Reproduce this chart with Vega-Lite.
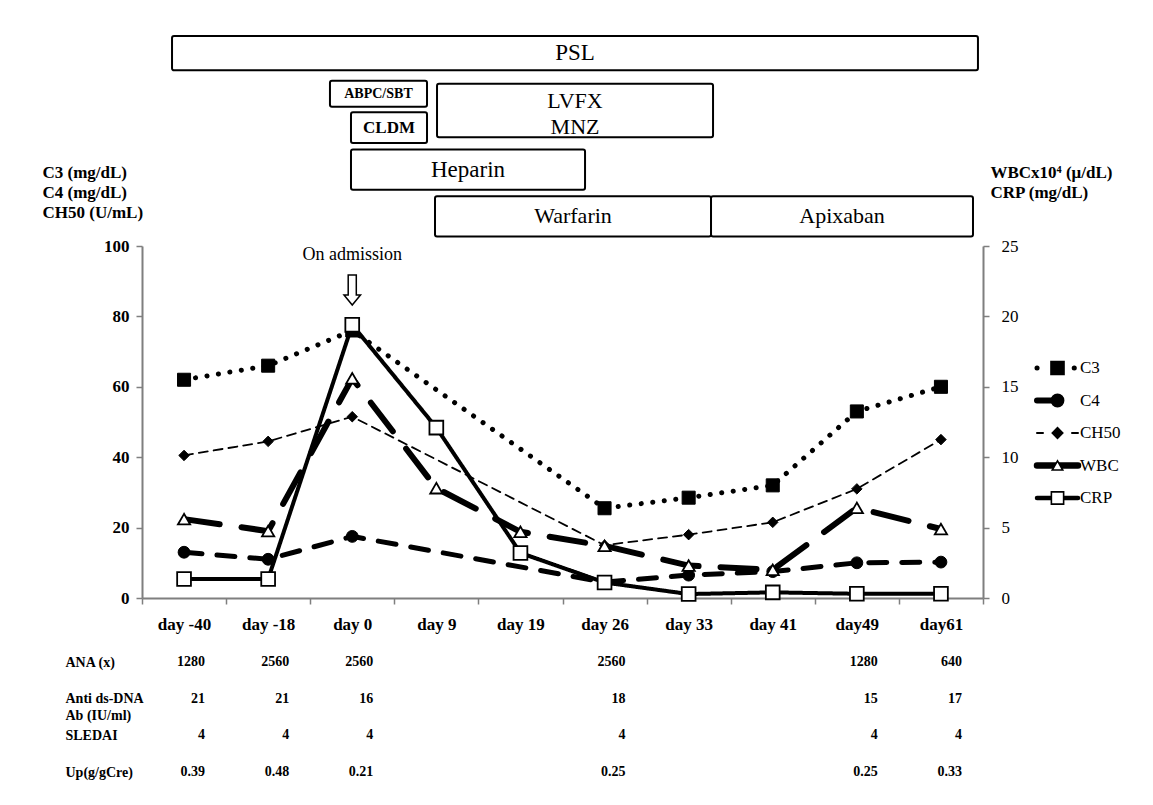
{
  "$schema": "https://vega.github.io/schema/vega-lite/v6.json",
  "background": "white",
  "padding": {"left": 42, "top": 35, "right": 0, "bottom": 0},
  "autosize": {"type": "pad"},
  "bounds": "flush",
  "spacing": 0,
  "config": {
    "font": "Liberation Serif",
    "view": {"stroke": null},
    "axis": {"labelColor": "black", "titleColor": "black", "domainColor": "#7f7f7f", "tickColor": "#7f7f7f", "domainWidth": 2, "tickWidth": 1.5, "grid": false},
    "text": {"color": "black"}
  },
  "datasets": {
    "labs": [
      {"day": "day -40", "t": -40, "series": "C3", "value": 62},
      {"day": "day -18", "t": -18, "series": "C3", "value": 66},
      {"day": "day 0", "t": 0, "series": "C3", "value": 76},
      {"day": "day 26", "t": 26, "series": "C3", "value": 25.5},
      {"day": "day 33", "t": 33, "series": "C3", "value": 28.5},
      {"day": "day 41", "t": 41, "series": "C3", "value": 32},
      {"day": "day49", "t": 49, "series": "C3", "value": 53},
      {"day": "day61", "t": 61, "series": "C3", "value": 60},
      {"day": "day -40", "t": -40, "series": "C4", "value": 13},
      {"day": "day -18", "t": -18, "series": "C4", "value": 11},
      {"day": "day 0", "t": 0, "series": "C4", "value": 17.5},
      {"day": "day 26", "t": 26, "series": "C4", "value": 4.5},
      {"day": "day 33", "t": 33, "series": "C4", "value": 6.5},
      {"day": "day 41", "t": 41, "series": "C4", "value": 7.5},
      {"day": "day49", "t": 49, "series": "C4", "value": 10},
      {"day": "day61", "t": 61, "series": "C4", "value": 10.2},
      {"day": "day -40", "t": -40, "series": "CH50", "value": 40.5},
      {"day": "day -18", "t": -18, "series": "CH50", "value": 44.5},
      {"day": "day 0", "t": 0, "series": "CH50", "value": 51.5},
      {"day": "day 26", "t": 26, "series": "CH50", "value": 15},
      {"day": "day 33", "t": 33, "series": "CH50", "value": 18},
      {"day": "day 41", "t": 41, "series": "CH50", "value": 21.5},
      {"day": "day49", "t": 49, "series": "CH50", "value": 31},
      {"day": "day61", "t": 61, "series": "CH50", "value": 45},
      {"day": "day -40", "t": -40, "series": "WBC", "value": 5.6},
      {"day": "day -18", "t": -18, "series": "WBC", "value": 4.75},
      {"day": "day 0", "t": 0, "series": "WBC", "value": 15.6},
      {"day": "day 9", "t": 9, "series": "WBC", "value": 7.8},
      {"day": "day 19", "t": 19, "series": "WBC", "value": 4.7},
      {"day": "day 26", "t": 26, "series": "WBC", "value": 3.7},
      {"day": "day 33", "t": 33, "series": "WBC", "value": 2.3},
      {"day": "day 41", "t": 41, "series": "WBC", "value": 2.0},
      {"day": "day49", "t": 49, "series": "WBC", "value": 6.4},
      {"day": "day61", "t": 61, "series": "WBC", "value": 4.9},
      {"day": "day -40", "t": -40, "series": "CRP", "value": 1.35},
      {"day": "day -18", "t": -18, "series": "CRP", "value": 1.35},
      {"day": "day 0", "t": 0, "series": "CRP", "value": 19.4},
      {"day": "day 9", "t": 9, "series": "CRP", "value": 12.1},
      {"day": "day 19", "t": 19, "series": "CRP", "value": 3.2},
      {"day": "day 26", "t": 26, "series": "CRP", "value": 1.1},
      {"day": "day 33", "t": 33, "series": "CRP", "value": 0.28},
      {"day": "day 41", "t": 41, "series": "CRP", "value": 0.4},
      {"day": "day49", "t": 49, "series": "CRP", "value": 0.3},
      {"day": "day61", "t": 61, "series": "CRP", "value": 0.3}
    ],
    "table": [
      {"item": "ANA (x)", "day": "day -40", "val": "1280"},
      {"item": "ANA (x)", "day": "day -18", "val": "2560"},
      {"item": "ANA (x)", "day": "day 0", "val": "2560"},
      {"item": "ANA (x)", "day": "day 26", "val": "2560"},
      {"item": "ANA (x)", "day": "day49", "val": "1280"},
      {"item": "ANA (x)", "day": "day61", "val": "640"},
      {"item": "Anti ds-DNA Ab (IU/ml)", "day": "day -40", "val": "21"},
      {"item": "Anti ds-DNA Ab (IU/ml)", "day": "day -18", "val": "21"},
      {"item": "Anti ds-DNA Ab (IU/ml)", "day": "day 0", "val": "16"},
      {"item": "Anti ds-DNA Ab (IU/ml)", "day": "day 26", "val": "18"},
      {"item": "Anti ds-DNA Ab (IU/ml)", "day": "day49", "val": "15"},
      {"item": "Anti ds-DNA Ab (IU/ml)", "day": "day61", "val": "17"},
      {"item": "SLEDAI", "day": "day -40", "val": "4"},
      {"item": "SLEDAI", "day": "day -18", "val": "4"},
      {"item": "SLEDAI", "day": "day 0", "val": "4"},
      {"item": "SLEDAI", "day": "day 26", "val": "4"},
      {"item": "SLEDAI", "day": "day49", "val": "4"},
      {"item": "SLEDAI", "day": "day61", "val": "4"},
      {"item": "Up(g/gCre)", "day": "day -40", "val": "0.39"},
      {"item": "Up(g/gCre)", "day": "day -18", "val": "0.48"},
      {"item": "Up(g/gCre)", "day": "day 0", "val": "0.21"},
      {"item": "Up(g/gCre)", "day": "day 26", "val": "0.25"},
      {"item": "Up(g/gCre)", "day": "day49", "val": "0.25"},
      {"item": "Up(g/gCre)", "day": "day61", "val": "0.33"}
    ],
    "therapy": [
      {"drug": "PSL", "start": 0.357, "end": 9.94, "top": 0, "bottom": 3.6},
      {"drug": "ABPC/SBT", "start": 2.235, "end": 3.389, "top": 4.7, "bottom": 7.4},
      {"drug": "CLDM", "start": 2.485, "end": 3.389, "top": 8.0, "bottom": 11.2},
      {"drug": "LVFX\nMNZ", "start": 3.508, "end": 6.79, "top": 5.0, "bottom": 10.6},
      {"drug": "Heparin", "start": 2.485, "end": 5.268, "top": 11.9, "bottom": 16.1},
      {"drug": "Warfarin", "start": 3.484, "end": 6.766, "top": 16.8, "bottom": 21},
      {"drug": "Apixaban", "start": 6.766, "end": 9.881, "top": 16.8, "bottom": 21}
    ],
    "keys": [
      {"series": "C3"}, {"series": "C4"}, {"series": "CH50"}, {"series": "WBC"}, {"series": "CRP"}
    ],
    "notes": [
      {"day": "day 0", "value": 97.5, "note": "On admission"}
    ],
    "arrows": [
      {"day": "day 0", "value": 87.5}
    ]
  },
  "resolve": {"scale": {"x": "independent", "y": "independent"}},
  "vconcat": [
    {
      "width": 841,
      "height": 210,
      "data": {"name": "therapy"},
      "transform": [
        {"calculate": "(datum.start + datum.end) / 2", "as": "xm"},
        {"calculate": "(datum.top + datum.bottom) / 2", "as": "ym"}
      ],
      "layer": [
        {
          "mark": {"type": "rect", "fill": "white", "stroke": "black", "strokeWidth": 2, "cornerRadius": 2},
          "encoding": {
            "x": {"field": "start", "type": "quantitative", "scale": {"domain": [0, 10]}, "axis": null},
            "x2": {"field": "end"},
            "y": {"field": "top", "type": "quantitative", "scale": {"domain": [0, 21], "reverse": true}, "axis": null},
            "y2": {"field": "bottom"}
          }
        },
        {
          "transform": [{"filter": "datum.drug == 'PSL' || datum.drug == 'Heparin'"}],
          "mark": {"type": "text", "fontSize": 23, "baseline": "middle"},
          "encoding": {
            "x": {"field": "xm", "type": "quantitative"},
            "y": {"field": "ym", "type": "quantitative"},
            "text": {"field": "drug"}
          }
        },
        {
          "transform": [{"filter": "test(/LVFX/, datum.drug)"}],
          "mark": {"type": "text", "fontSize": 22, "lineBreak": "\n", "lineHeight": 26, "baseline": "middle", "dy": -9},
          "encoding": {
            "x": {"field": "xm", "type": "quantitative"},
            "y": {"field": "ym", "type": "quantitative"},
            "text": {"field": "drug"}
          }
        },
        {
          "transform": [{"filter": "datum.drug == 'Warfarin' || datum.drug == 'Apixaban'"}],
          "mark": {"type": "text", "fontSize": 22, "baseline": "middle"},
          "encoding": {
            "x": {"field": "xm", "type": "quantitative"},
            "y": {"field": "ym", "type": "quantitative"},
            "text": {"field": "drug"}
          }
        },
        {
          "transform": [{"filter": "datum.drug == 'ABPC/SBT'"}],
          "mark": {"type": "text", "fontSize": 14, "fontWeight": "bold", "baseline": "middle"},
          "encoding": {
            "x": {"field": "xm", "type": "quantitative"},
            "y": {"field": "ym", "type": "quantitative"},
            "text": {"field": "drug"}
          }
        },
        {
          "transform": [{"filter": "datum.drug == 'CLDM'"}],
          "mark": {"type": "text", "fontSize": 17, "fontWeight": "bold", "baseline": "middle"},
          "encoding": {
            "x": {"field": "xm", "type": "quantitative"},
            "y": {"field": "ym", "type": "quantitative"},
            "text": {"field": "drug"}
          }
        }
      ]
    },
    {
      "width": 841,
      "height": 352,
      "layer": [
        {
          "data": {"name": "labs"},
          "encoding": {
            "x": {
              "field": "day", "type": "ordinal", "sort": null, "bandPosition": 0.5,
              "scale": {"type": "band", "domain": ["day -40", "day -18", "day 0", "day 9", "day 19", "day 26", "day 33", "day 41", "day49", "day61"], "paddingInner": 0, "paddingOuter": 0},
              "axis": {"title": null, "tickBand": "extent", "labelAngle": 0, "labelFontSize": 17, "labelFontWeight": "bold", "labelPadding": 12, "tickSize": 6}
            }
          },
          "layer": [
            {
              "encoding": {
                "y": {
                  "field": "value", "type": "quantitative", "scale": {"domain": [0, 100]},
                  "axis": {
                    "orient": "left", "values": [0, 20, 40, 60, 80, 100],
                    "title": ["C3 (mg/dL)", "C4 (mg/dL)", "CH50 (U/mL)"],
                    "titleAngle": 0, "titleAlign": "left", "titleBaseline": "top", "titleX": -100, "titleY": -82,
                    "titleFontSize": 17, "titleFontWeight": "bold", "titleLineHeight": 20,
                    "labelFontSize": 17, "labelFontWeight": "bold", "labelPadding": 7, "tickSize": 6
                  }
                }
              },
              "layer": [
                {
                  "transform": [{"filter": "datum.series == 'C3' || datum.series == 'C4' || datum.series == 'CH50'"}],
                  "mark": {"type": "line", "color": "black", "strokeCap": "round"},
                  "encoding": {
                    "detail": {"field": "series"},
                    "order": {"field": "t", "type": "quantitative"},
                    "strokeDash": {"field": "series", "type": "nominal", "legend": null,
                      "scale": {"domain": ["C3", "C4", "CH50", "WBC", "CRP"], "range": [[0.1, 11.5], [18, 15], [9, 6], [36, 22], [1, 0]]}},
                    "strokeWidth": {"condition": [{"test": "datum.series == 'CH50'", "value": 1.8}], "value": 5}
                  }
                },
                {
                  "transform": [{"filter": "datum.series == 'C3' || datum.series == 'C4' || datum.series == 'CH50'"}],
                  "mark": {"type": "point", "filled": true, "stroke": "black", "strokeWidth": 1, "opacity": 1},
                  "encoding": {
                    "shape": {"field": "series", "type": "nominal", "legend": null,
                      "scale": {"domain": ["C3", "C4", "CH50", "WBC", "CRP"], "range": ["square", "circle", "diamond", "triangle-up", "square"]}},
                    "fill": {"field": "series", "type": "nominal", "legend": null,
                      "scale": {"domain": ["C3", "C4", "CH50", "WBC", "CRP"], "range": ["black", "black", "black", "white", "white"]}},
                    "size": {"condition": [{"test": "datum.series == 'C3'", "value": 170}, {"test": "datum.series == 'C4'", "value": 140}], "value": 110}
                  }
                },
                {
                  "data": {"name": "notes"},
                  "mark": {"type": "text", "fontSize": 18, "baseline": "middle"},
                  "encoding": {
                    "text": {"field": "note"}
                  }
                },
                {
                  "data": {"name": "arrows"},
                  "mark": {"type": "point", "shape": "M-0.27,-1L0.27,-1L0.27,0.33L0.55,0.33L0,1L-0.55,0.33L-0.27,0.33Z", "size": 900, "filled": true, "fill": "white", "stroke": "black", "strokeWidth": 1.5, "opacity": 1}
                }
              ]
            },
            {
              "encoding": {
                "y": {
                  "field": "value", "type": "quantitative", "scale": {"domain": [0, 25]},
                  "axis": {
                    "orient": "right", "values": [0, 5, 10, 15, 20, 25],
                    "title": ["WBCx10⁴ (μ/dL)", "CRP (mg/dL)"],
                    "titleAngle": 0, "titleAlign": "left", "titleBaseline": "top", "titleX": 7, "titleY": -82,
                    "titleFontSize": 17, "titleFontWeight": "bold", "titleLineHeight": 20,
                    "labelFontSize": 17, "labelFontWeight": "normal", "labelPadding": 12, "tickSize": 6
                  }
                }
              },
              "layer": [
                {
                  "transform": [{"filter": "datum.series == 'WBC' || datum.series == 'CRP'"}],
                  "mark": {"type": "line", "color": "black", "strokeCap": "round"},
                  "encoding": {
                    "detail": {"field": "series"},
                    "order": {"field": "t", "type": "quantitative"},
                    "strokeDash": {"field": "series", "type": "nominal", "legend": null,
                      "scale": {"domain": ["C3", "C4", "CH50", "WBC", "CRP"], "range": [[0.1, 11.5], [18, 15], [9, 6], [36, 22], [1, 0]]}},
                    "strokeWidth": {"condition": [{"test": "datum.series == 'WBC'", "value": 6}], "value": 4}
                  }
                },
                {
                  "transform": [{"filter": "datum.series == 'WBC' || datum.series == 'CRP'"}],
                  "mark": {"type": "point", "filled": true, "stroke": "black", "strokeWidth": 1.8, "opacity": 1},
                  "encoding": {
                    "shape": {"field": "series", "type": "nominal", "legend": null,
                      "scale": {"domain": ["C3", "C4", "CH50", "WBC", "CRP"], "range": ["square", "circle", "diamond", "triangle-up", "square"]}},
                    "fill": {"field": "series", "type": "nominal", "legend": null,
                      "scale": {"domain": ["C3", "C4", "CH50", "WBC", "CRP"], "range": ["black", "black", "black", "white", "white"]}},
                    "size": {"condition": [{"test": "datum.series == 'WBC'", "value": 150}], "value": 190}
                  }
                }
              ]
            }
          ],
          "resolve": {"scale": {"y": "independent"}}
        },
        {
          "data": {"name": "keys"},
          "encoding": {
            "y": {"field": "series", "type": "nominal", "axis": null,
              "scale": {"type": "point", "domain": ["C3", "C4", "CH50", "WBC", "CRP"], "range": [122, 252], "padding": 0}}
          },
          "layer": [
            {
              "transform": [{"filter": "datum.series != 'C4'"}],
              "mark": {"type": "rule", "color": "black", "strokeCap": "round"},
              "encoding": {
                "x": {"datum": 0, "type": "quantitative", "scale": {"domain": [0, 1], "range": [895, 936]}, "axis": null},
                "x2": {"datum": 1},
                "strokeDash": {"field": "series", "type": "nominal", "legend": null,
                  "scale": {"domain": ["C3", "C4", "CH50", "WBC", "CRP"], "range": [[0.1, 18.5], [1, 0], [6, 29], [1, 0], [1, 0]]}},
                "strokeWidth": {"condition": [{"test": "datum.series == 'CH50'", "value": 2}, {"test": "datum.series == 'WBC'", "value": 6.5}, {"test": "datum.series == 'CRP'", "value": 4.5}], "value": 5}
              }
            },
            {
              "transform": [{"filter": "datum.series == 'C4'"}],
              "mark": {"type": "rule", "color": "black", "strokeCap": "round", "strokeWidth": 6},
              "encoding": {
                "x": {"datum": 0, "type": "quantitative"},
                "x2": {"datum": 0.5}
              }
            },
            {
              "mark": {"type": "point", "filled": true, "stroke": "black", "strokeWidth": 1.6, "opacity": 1},
              "encoding": {
                "x": {"datum": 0.5, "type": "quantitative"},
                "shape": {"field": "series", "type": "nominal", "legend": null,
                  "scale": {"domain": ["C3", "C4", "CH50", "WBC", "CRP"], "range": ["square", "circle", "diamond", "triangle-up", "square"]}},
                "fill": {"field": "series", "type": "nominal", "legend": null,
                  "scale": {"domain": ["C3", "C4", "CH50", "WBC", "CRP"], "range": ["black", "black", "black", "white", "white"]}},
                "size": {"condition": [{"test": "datum.series == 'C3'", "value": 170}, {"test": "datum.series == 'C4'", "value": 150}, {"test": "datum.series == 'CRP'", "value": 150}, {"test": "datum.series == 'WBC'", "value": 110}], "value": 110}
              }
            },
            {
              "mark": {"type": "text", "align": "left", "baseline": "middle", "dx": 2, "fontSize": 17},
              "encoding": {
                "x": {"datum": 1, "type": "quantitative"},
                "text": {"field": "series"}
              }
            }
          ]
        }
      ],
      "resolve": {"scale": {"x": "independent", "y": "independent", "strokeDash": "independent", "shape": "independent", "fill": "independent"}}
    },
    {
      "width": 841,
      "height": 190,
      "data": {"name": "table"},
      "mark": {"type": "text", "align": "right", "dx": 21, "fontSize": 14, "fontWeight": "bold", "baseline": "middle"},
      "encoding": {
        "x": {
          "field": "day", "type": "ordinal", "sort": null, "bandPosition": 0.5, "axis": null,
          "scale": {"type": "band", "domain": ["day -40", "day -18", "day 0", "day 9", "day 19", "day 26", "day 33", "day 41", "day49", "day61"], "paddingInner": 0, "paddingOuter": 0}
        },
        "y": {
          "field": "item", "type": "nominal",
          "scale": {"type": "point", "domain": ["ANA (x)", "Anti ds-DNA Ab (IU/ml)", "SLEDAI", "Up(g/gCre)"], "range": [64, 174], "padding": 0},
          "axis": {
            "orient": "left", "title": null, "ticks": false, "domain": false,
            "labelAlign": "left", "labelPadding": 77, "labelFontSize": 14, "labelFontWeight": "bold",
            "labelLineHeight": 17, "labelBaseline": "middle",
            "labelExpr": "datum.label == 'Anti ds-DNA Ab (IU/ml)' ? ['Anti ds-DNA', 'Ab (IU/ml)'] : datum.label"
          }
        },
        "text": {"field": "val"}
      }
    }
  ]
}
